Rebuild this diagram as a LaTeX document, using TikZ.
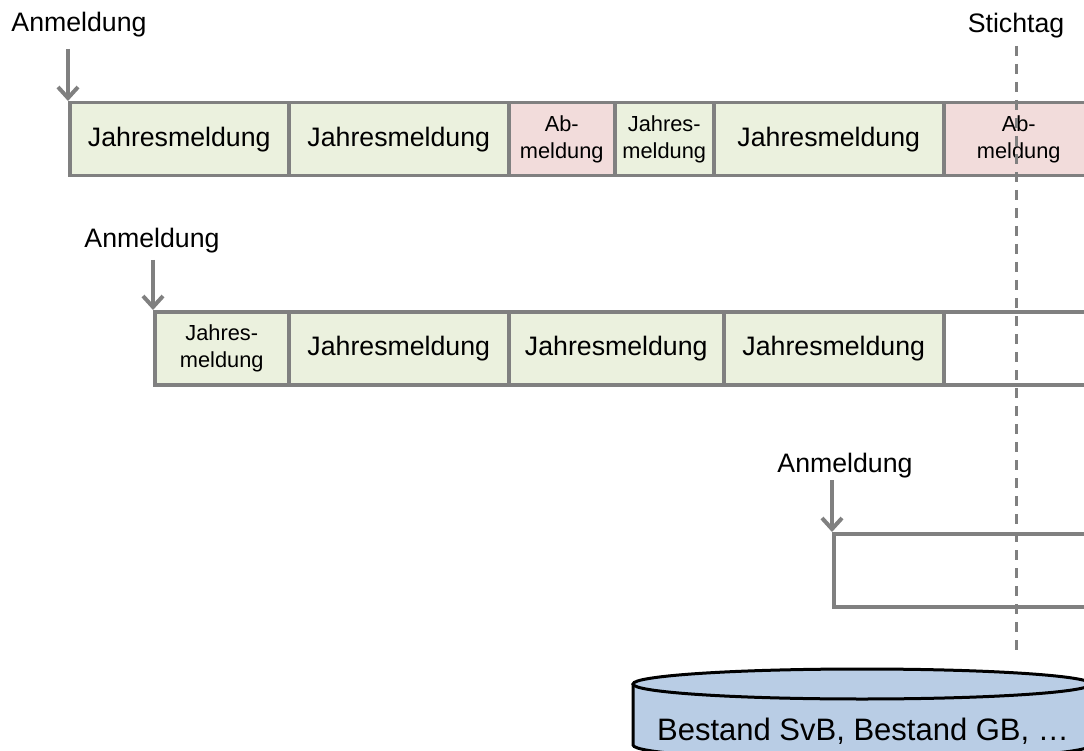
\documentclass[tikz,border=0pt]{standalone}
\usepackage{fontspec}
\setmainfont{Liberation Sans}
\usetikzlibrary{arrows.meta}

\definecolor{rahmen}{RGB}{128,128,128}
\definecolor{gruen}{RGB}{235,241,222}
\definecolor{rosa}{RGB}{242,220,219}
\definecolor{blau}{RGB}{185,205,229}

\newcommand{\gross}{\fontsize{26.7}{30}\selectfont}
\newcommand{\klein}{\fontsize{21.8}{26.5}\selectfont}
\newcommand{\riesig}{\fontsize{31}{34}\selectfont}

\tikzset{
	meld/.style={draw=rahmen, line width=3.5pt, inner sep=0pt, anchor=north west,
		minimum height=73pt, font=\gross, align=center},
	jm/.style={meld, fill=gruen},
	jmk/.style={jm, font=\klein},
	abm/.style={meld, fill=rosa, font=\klein},
	leer/.style={meld, fill=white},
	anm/.style={draw=rahmen, line width=4pt, -{Straight Barb[length=11pt,width=20pt]}},
	lbl/.style={font=\gross, anchor=base, inner sep=0pt}
}

\begin{document}
\begin{tikzpicture}[x=1pt, y=-1pt]
		\useasboundingbox (0,0) rectangle (1084,751);
		\clip (0,0) rectangle (1084,751);
		
		% Zeile 1
		\node[jm, minimum width=219pt] (j1) at (68,101) {Jahresmeldung};
		\node[jm, minimum width=220pt] (j2) at (287,101) {Jahresmeldung};
		\node[abm, minimum width=106pt] (j3) at (507,101) {Ab-\\meldung};
		\node[jmk, minimum width=99pt] (j4) at (613,101) {Jahres-\\meldung};
		\node[jm, minimum width=230pt] (j5) at (712,101) {Jahresmeldung};
		\node[abm, minimum width=150pt] (j6) at (942,101) {Ab-\\meldung};
		\node[lbl] (anm1) at (79,32) {Anmeldung};
		\coordinate (p1) at (68,49);
		\draw[anm] (p1) -- (j1.north west);
		
		% Zeile 2
		\node[jmk, minimum width=134pt] (k1) at (153,310) {Jahres-\\meldung};
		\node[jm, minimum width=220pt] (k2) at (287,310) {Jahresmeldung};
		\node[jm, minimum width=215pt] (k3) at (507,310) {Jahresmeldung};
		\node[jm, minimum width=220pt] (k4) at (722,310) {Jahresmeldung};
		\node[leer, minimum width=200pt] (k5) at (942,310) {};
		\node[lbl] (anm2) at (152,248) {Anmeldung};
		\coordinate (p2) at (153,260);
		\draw[anm] (p2) -- (k1.north west);
		
		% Zeile 3
		\node[leer, minimum width=300pt] (l1) at (832,532) {};
		\node[lbl] (anm3) at (845,472) {Anmeldung};
		\coordinate (p3) at (832,480);
		\draw[anm] (p3) -- (l1.north west);
		
		% Stichtag
		\node[lbl] (stich) at (1016,33) {Stichtag};
		\coordinate (s2) at (1016,650);
		\draw[rahmen, line width=3pt, dash pattern=on 10pt off 8pt] (1016,46) -- (s2);
		
		% Bestand (Zylinder)
		\filldraw[fill=blau, line width=3pt] (633,684) -- (633,745)
			arc[start angle=180, end angle=0, x radius=229, y radius=15] -- (1091,684);
		\filldraw[fill=blau, line width=3pt] (862,684) ellipse[x radius=229, y radius=15];
		\node[font=\riesig, anchor=base, inner sep=0pt] (bestand) at (863,740) {Bestand SvB, Bestand GB, …};
	\end{tikzpicture}
\end{document}
